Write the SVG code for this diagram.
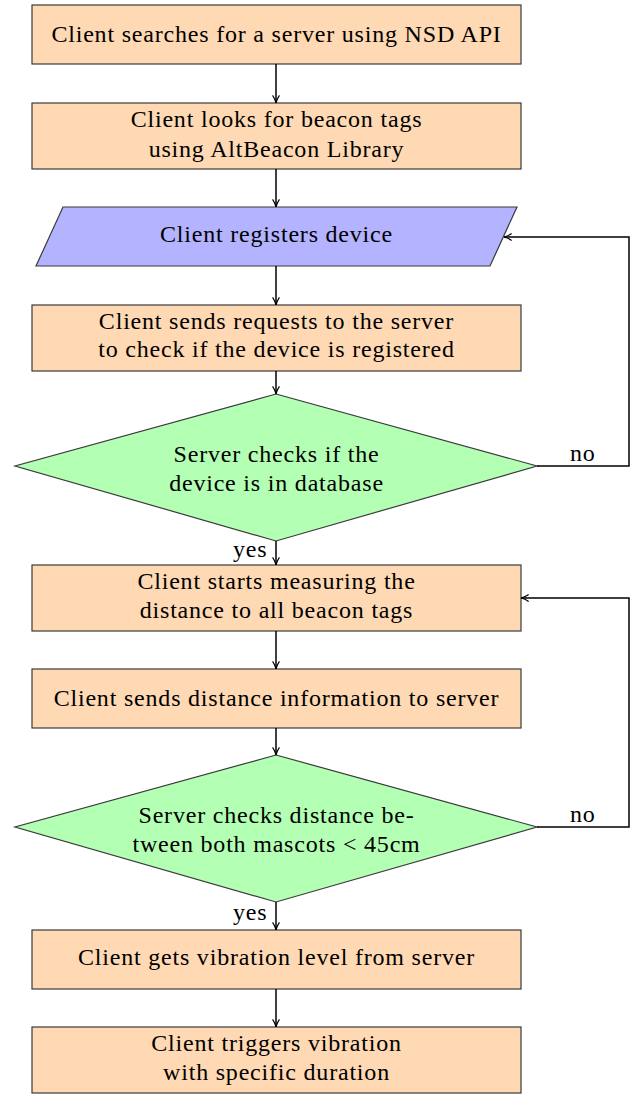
<svg xmlns="http://www.w3.org/2000/svg" width="638" height="1103" viewBox="0 0 638 1103">
<defs>
<marker id="arr" viewBox="0 0 10 10" refX="9.5" refY="5" markerWidth="9" markerHeight="9" markerUnits="userSpaceOnUse" orient="auto">
<path d="M1,1.2 Q5,4 9.5,5 Q5,6 1,8.8" fill="none" stroke="#000" stroke-width="1.3"/>
</marker>
<style>
.box{fill:#ffd9b3;stroke:#3a3a3a;stroke-width:1.2}
.io{fill:#b3b3ff;stroke:#3a3a3a;stroke-width:1.2}
.dec{fill:#b3ffb3;stroke:#3a3a3a;stroke-width:1.2}
.t{font-family:"Liberation Serif","Times New Roman",serif;font-size:24px;letter-spacing:0.8px;fill:#000;text-anchor:middle}
.l{font-family:"Liberation Serif","Times New Roman",serif;font-size:24px;letter-spacing:0.8px;fill:#000}
.c{fill:none;stroke:#000;stroke-width:1.5;marker-end:url(#arr)}
</style>
</defs>
<rect width="638" height="1103" fill="#fff"/>
<g id="n1"><rect class="box" x="32" y="5" width="489" height="59"/><text class="t" x="276.5" y="42">Client searches for a server using NSD API</text></g>
<g id="n2"><rect class="box" x="32" y="103" width="489" height="66"/><text class="t" x="276.5" y="127">Client looks for beacon tags</text><text class="t" x="276.5" y="157">using AltBeacon Library</text></g>
<g id="n3"><polygon class="io" points="63,207 517,207 490,266 36,266"/><text class="t" x="276.5" y="242">Client registers device</text></g>
<g id="n4"><rect class="box" x="32" y="305" width="489" height="66"/><text class="t" x="276.5" y="329">Client sends requests to the server</text><text class="t" x="276.5" y="357">to check if the device is registered</text></g>
<g id="n5"><polygon class="dec" points="276,394 537,466 276,541 15,466"/><text class="t" x="276.5" y="462">Server checks if the</text><text class="t" x="276.5" y="491">device is in database</text></g>
<g id="n6"><rect class="box" x="32" y="565" width="489" height="66"/><text class="t" x="276.5" y="589">Client starts measuring the</text><text class="t" x="276.5" y="618">distance to all beacon tags</text></g>
<g id="n7"><rect class="box" x="32" y="669" width="489" height="59"/><text class="t" x="276.5" y="706">Client sends distance information to server</text></g>
<g id="n8"><polygon class="dec" points="276,755 537,827 276,902 15,827"/><text class="t" x="276.5" y="823">Server checks distance be-</text><text class="t" x="276.5" y="852">tween both mascots &lt; 45cm</text></g>
<g id="n9"><rect class="box" x="32" y="930" width="489" height="59"/><text class="t" x="276.5" y="965">Client gets vibration level from server</text></g>
<g id="n10"><rect class="box" x="32" y="1027" width="489" height="66"/><text class="t" x="276.5" y="1051">Client triggers vibration</text><text class="t" x="276.5" y="1080">with specific duration</text></g>
<g id="connectors">
<path class="c" d="M276,64 V103"/>
<path class="c" d="M276,169 V207"/>
<path class="c" d="M276,266 V305"/>
<path class="c" d="M276,371 V394"/>
<path class="c" d="M276,541 V565"/>
<path class="c" d="M276,631 V669"/>
<path class="c" d="M276,728 V755"/>
<path class="c" d="M276,902 V930"/>
<path class="c" d="M276,989 V1027"/>
<path class="c" d="M537,466 H629 V237 H504"/>
<path class="c" d="M537,827 H629 V598 H521"/>
<text class="l" x="570" y="461">no</text>
<text class="l" x="570" y="822">no</text>
<text class="l" x="233" y="557">yes</text>
<text class="l" x="233" y="920">yes</text>
</g>
</svg>
